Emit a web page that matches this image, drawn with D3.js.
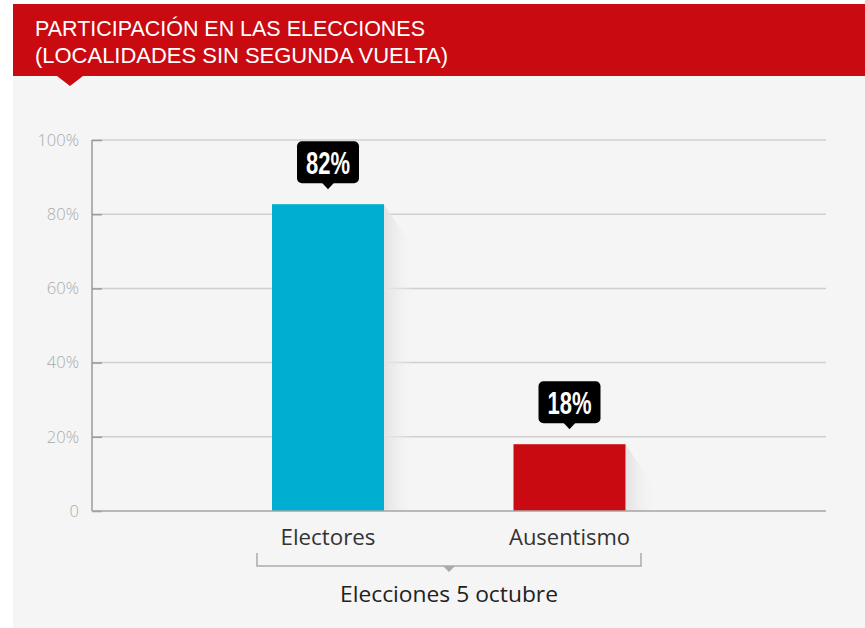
<!DOCTYPE html>
<html>
<head>
<meta charset="utf-8">
<script src="https://cdn.jsdelivr.net/npm/d3@7"></script>
<style>
  html, body { margin: 0; padding: 0; background: #ffffff; }
  svg { display: block; }
</style>
</head>
<body>
<svg id="chart" width="865" height="628"></svg>
<script>
// ---- data ----
const titleLines = ["PARTICIPACIÓN EN LAS ELECCIONES", "(LOCALIDADES SIN SEGUNDA VUELTA)"];
const categories = ["Electores", "Ausentismo"];
const values = [82.7, 18];
const valueLabels = ["82%", "18%"];
const barColors = ["#00aed1", "#c90a10"];
const yTicks = [0, 20, 40, 60, 80, 100];
const groupLabel = "Elecciones 5 octubre";

const svg = d3.select("#chart");
const W = 865, H = 628;

// background panel
svg.append("rect").attr("x", 13).attr("y", 76).attr("width", W - 13).attr("height", H - 76).attr("fill", "#f5f5f5");

// header
svg.append("rect").attr("x", 13).attr("y", 4).attr("width", W - 13).attr("height", 72).attr("fill", "#c90a10");
svg.append("path").attr("d", "M57,76 L83,76 L70,86 Z").attr("fill", "#c90a10");
const titleWidths = [390, 413];
svg.selectAll("text.title").data(titleLines).enter().append("text")
  .attr("class", "title")
  .attr("x", 35).attr("y", (d, i) => 36 + i * 27)
  .attr("fill", "#ffffff")
  .attr("font-family", "'Liberation Sans', Arial, sans-serif")
  .attr("font-size", 22.5)
  .attr("textLength", (d, i) => titleWidths[i]).attr("lengthAdjust", "spacingAndGlyphs")
  .text(d => d);

// scales
const y = d3.scaleLinear().domain([0, 100]).range([511, 140]);
const x = d3.scalePoint().domain(categories).range([328, 569.5]);
const bw = 112;
const plotL = 92, plotR = 826;

// gridlines
svg.append("g").selectAll("line").data(yTicks.filter(t => t > 0)).enter().append("line")
  .attr("x1", plotL).attr("x2", plotR)
  .attr("y1", d => y(d)).attr("y2", d => y(d))
  .attr("stroke", "#cfcfcf").attr("stroke-width", 1.5);

// y axis
const yAxis = d3.axisLeft(y).tickValues(yTicks)
  .tickFormat(d => d === 0 ? "0" : d + "%")
  .tickSize(-10).tickPadding(13);
const ga = svg.append("g").attr("transform", `translate(${plotL},0)`).call(yAxis);
ga.select(".domain").remove();
ga.selectAll(".tick line").attr("stroke", "#9a9a9a").attr("stroke-width", 1.5);
ga.selectAll(".tick text").attr("fill", "#ababab")
  .attr("font-family", "'Open Sans', sans-serif").attr("font-weight", 300).attr("font-size", 16.5);
ga.append("line").attr("x1", 0).attr("x2", 0).attr("y1", y(100)).attr("y2", y(0))
  .attr("stroke", "#9a9a9a").attr("stroke-width", 1.5);

// shadow gradient
const defs = svg.append("defs");
const grad = defs.append("linearGradient").attr("id", "shadowGrad").attr("x1", "0").attr("x2", "1").attr("y1", "0").attr("y2", "0");
grad.append("stop").attr("offset", "0").attr("stop-color", "#e2e2e2").attr("stop-opacity", 1);
grad.append("stop").attr("offset", "1").attr("stop-color", "#f5f5f5").attr("stop-opacity", 0);

// shadows
svg.append("g").selectAll("path").data(categories).enter().append("path")
  .attr("d", (d, i) => {
    const x1 = x(d) + bw / 2, top = y(values[i]), bot = y(0);
    return `M${x1},${top} L${x1 + 31},${top + 46} L${x1 + 31},${bot} L${x1},${bot} Z`;
  })
  .attr("fill", "url(#shadowGrad)");

// bars
svg.append("g").selectAll("rect").data(categories).enter().append("rect")
  .attr("x", d => x(d) - bw / 2)
  .attr("y", (d, i) => y(values[i]))
  .attr("width", bw)
  .attr("height", (d, i) => y(0) - y(values[i]))
  .attr("fill", (d, i) => barColors[i]);

// baseline
svg.append("line").attr("x1", plotL).attr("x2", plotR).attr("y1", y(0)).attr("y2", y(0))
  .attr("stroke", "#a5a5a5").attr("stroke-width", 1.5);

// value callouts
const cw = 62, ch = 42;
const callouts = svg.append("g").selectAll("g").data(categories).enter().append("g")
  .attr("transform", (d, i) => `translate(${x(d)},${y(values[i]) - 21})`);
callouts.append("rect")
  .attr("x", -cw / 2).attr("y", -ch).attr("width", cw).attr("height", ch)
  .attr("rx", 5).attr("fill", "#000");
callouts.append("path").attr("d", "M-6,-0.5 L6,-0.5 L0,6 Z").attr("fill", "#000");
callouts.append("text")
  .attr("x", 0).attr("y", -9)
  .attr("text-anchor", "middle")
  .attr("fill", "#fff")
  .attr("font-family", "'Liberation Sans Narrow', 'Liberation Sans', sans-serif")
  .attr("font-weight", "bold")
  .attr("font-size", 31)
  .attr("textLength", 44).attr("lengthAdjust", "spacingAndGlyphs")
  .text((d, i) => valueLabels[i]);

// category labels
const catWidths = [95, 121];
svg.append("g").selectAll("text").data(categories).enter().append("text")
  .attr("x", d => x(d)).attr("y", 545)
  .attr("text-anchor", "middle")
  .attr("fill", "#333")
  .attr("font-family", "'Open Sans', sans-serif")
  .attr("font-size", 21)
  .attr("textLength", (d, i) => catWidths[i]).attr("lengthAdjust", "spacingAndGlyphs")
  .text(d => d);

// bracket
const bx0 = 257, bx1 = 641, by = 566, bmid = (bx0 + bx1) / 2;
svg.append("path")
  .attr("d", `M${bx0},553 L${bx0},${by} L${bx1},${by} L${bx1},553`)
  .attr("fill", "none").attr("stroke", "#aaa").attr("stroke-width", 1.5);
svg.append("path").attr("d", `M${bmid - 6},${by} L${bmid + 6},${by} L${bmid},${by + 6} Z`).attr("fill", "#aaa");

svg.append("text").attr("x", bmid).attr("y", 602)
  .attr("text-anchor", "middle")
  .attr("fill", "#222")
  .attr("font-family", "'Open Sans', sans-serif")
  .attr("font-size", 22)
  .attr("textLength", 218).attr("lengthAdjust", "spacingAndGlyphs")
  .text(groupLabel);
</script>
</body>
</html>
